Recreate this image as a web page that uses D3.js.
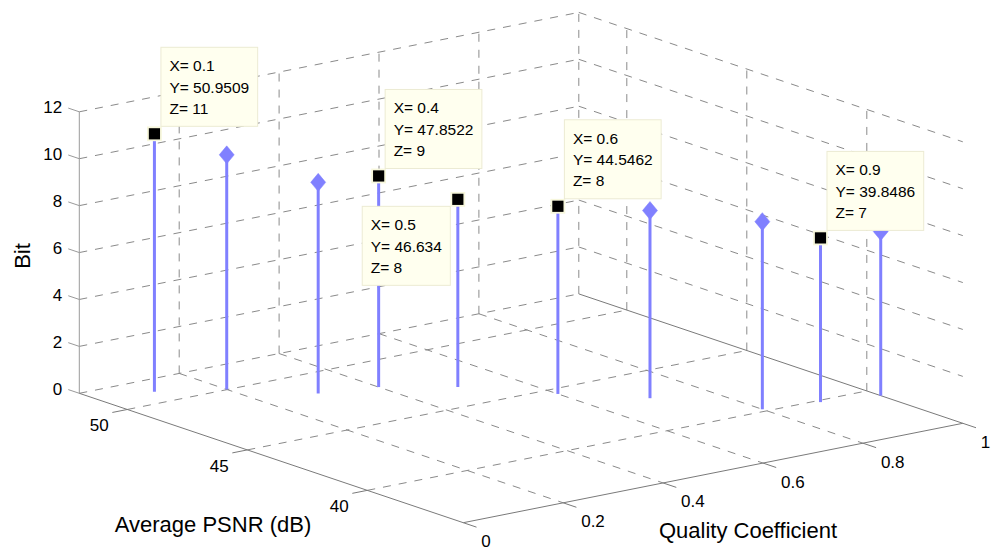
<!DOCTYPE html>
<html>
<head>
<meta charset="utf-8">
<script src="https://cdn.jsdelivr.net/npm/d3@7"></script>
<style>
  html, body { margin: 0; padding: 0; background: #ffffff; }
  svg { display: block; font-family: "Liberation Sans", Arial, Helvetica, sans-serif; }
</style>
</head>
<body>
<svg id="chart" width="1000" height="560"></svg>
<script>
// ---------------- data ----------------
const quality = [0.1, 0.2, 0.3, 0.4, 0.5, 0.6, 0.7, 0.8, 0.9, 1.0];
const psnr    = [50.9509, 50.02, 48.29, 47.8522, 46.634, 44.5462, 42.79, 40.19, 39.8486, 39.42];
const bits    = [11, 10, 9, 9, 8, 8, 8, 8, 7, 7];
const tipIndex = [0, 3, 4, 5, 8];          // points carrying a data tip
const xTicks = [0, 0.2, 0.4, 0.6, 0.8, 1];
const yTicks = [40, 45, 50];
const zTicks = [0, 2, 4, 6, 8, 10, 12];
const xDomain = [0, 1];
const yDomain = [36, 52];
const zDomain = [0, 12];

// ---------------- projection (orthographic 3D view) ----------------
const sx = d3.scaleLinear().domain(xDomain).range([0, 1]);
const sy = d3.scaleLinear().domain(yDomain).range([0, 1]);
const sz = d3.scaleLinear().domain(zDomain).range([0, 1]);
const origin = [463.3, 522.7];       // screen position of (xmin, ymin, zmin)
const ex = [499.5, -99.4];           // full x-range vector
const ey = [-384, -129.4];           // full y-range vector
const ez = [0, -281.5];              // full z-range vector
function P(x, y, z) {
  const a = sx(x), b = sy(y), c = sz(z);
  return [origin[0] + a * ex[0] + b * ey[0] + c * ez[0],
          origin[1] + a * ex[1] + b * ey[1] + c * ez[1]];
}

const svg = d3.select("#chart");
const gGrid = svg.append("g");
const gAxes = svg.append("g");
const gData = svg.append("g");
const gTips = svg.append("g");

const [x0, x1] = xDomain, [y0, y1] = yDomain, [z0, z1] = zDomain;
const gridColor = "#8a8a8a";
const axisColor = "#7a7a7a";

function seg(g, a, b, dashed, color) {
  g.append("line")
    .attr("x1", a[0]).attr("y1", a[1]).attr("x2", b[0]).attr("y2", b[1])
    .attr("stroke", color).attr("stroke-width", 1)
    .attr("stroke-dasharray", dashed ? "8,8" : null);
}

// ---- grid: back-left wall (y = ymax)
xTicks.filter(v => v > x0).forEach(v => seg(gGrid, P(v, y1, z0), P(v, y1, z1), true, gridColor));
zTicks.forEach(v => seg(gGrid, P(x0, y1, v), P(x1, y1, v), true, gridColor));
// ---- grid: back-right wall (x = xmax)
yTicks.forEach(v => seg(gGrid, P(x1, v, z0), P(x1, v, z1), true, gridColor));
zTicks.filter(v => v > z0).forEach(v => seg(gGrid, P(x1, y1, v), P(x1, y0, v), true, gridColor));
// ---- grid: floor
yTicks.forEach(v => seg(gGrid, P(x0, v, z0), P(x1, v, z0), true, gridColor));
xTicks.filter(v => v > x0 && v < x1).forEach(v => seg(gGrid, P(v, y1, z0), P(v, y0, z0), true, gridColor));

// ---- axes lines
seg(gAxes, P(x0, y1, z0), P(x0, y1, z1), false, "#9a9a9a");   // z axis
seg(gAxes, P(x0, y1, z0), P(x0, y0, z0), false, axisColor);   // y axis
seg(gAxes, P(x0, y0, z0), P(x1, y0, z0), false, axisColor);   // x axis
seg(gAxes, P(x1, y1, z0), P(x1, y0, z0), false, axisColor);   // floor edge at x max

const tickFont = 17;
// z ticks
zTicks.forEach(v => {
  const a = P(x0, y1, v), b = P(x0, y1 + 0.46, v);
  seg(gAxes, a, b, false, "#9a9a9a");
  gAxes.append("text").attr("x", b[0] - 6).attr("y", b[1] - 1).attr("dy", "0.35em")
    .attr("text-anchor", "end").attr("font-size", tickFont).text(v);
});
// y ticks
yTicks.forEach(v => {
  const a = P(x0, v, z0), b = P(x0 - 0.03, v, z0);
  seg(gAxes, a, b, false, axisColor);
  gAxes.append("text").attr("x", a[0] - 28).attr("y", a[1] + 16).attr("dy", "0.35em")
    .attr("text-anchor", "middle").attr("font-size", tickFont).text(v);
});
// x ticks
xTicks.forEach(v => {
  const a = P(v, y0, z0), b = P(v, y0 - 0.55, z0);
  seg(gAxes, a, b, false, axisColor);
  gAxes.append("text").attr("x", a[0] + 18).attr("y", a[1] + 18.5).attr("dy", "0.35em")
    .attr("text-anchor", "start").attr("font-size", tickFont).text(v);
});

// axis labels
const labelFont = 22;
gAxes.append("text").attr("transform", "translate(30,256) rotate(-90)")
  .attr("text-anchor", "middle").attr("font-size", labelFont).text("Bit");
gAxes.append("text").attr("x", 213).attr("y", 532)
  .attr("text-anchor", "middle").attr("font-size", labelFont).text("Average PSNR (dB)");
gAxes.append("text").attr("x", 748).attr("y", 538)
  .attr("text-anchor", "middle").attr("font-size", labelFont).text("Quality Coefficient");

// ---------------- stems ----------------
const stemColor = "#8080ff";
const pts = quality.map((q, i) => ({ i, q, y: psnr[i], z: bits[i],
  base: P(q, psnr[i], z0), top: P(q, psnr[i], bits[i]) }));

gData.selectAll("line.stem").data(pts).join("line").attr("class", "stem")
  .attr("x1", d => d.base[0]).attr("y1", d => d.base[1])
  .attr("x2", d => d.top[0]).attr("y2", d => d.top[1])
  .attr("stroke", stemColor).attr("stroke-width", 3);

gData.selectAll("path.dia").data(pts.filter(d => !tipIndex.includes(d.i))).join("path")
  .attr("class", "dia")
  .attr("d", d => `M${d.top[0]},${d.top[1] - 9} L${d.top[0] + 7.5},${d.top[1]} L${d.top[0]},${d.top[1] + 9} L${d.top[0] - 7.5},${d.top[1]} Z`)
  .attr("fill", stemColor).attr("stroke", stemColor).attr("stroke-width", 0.5);

// ---------------- data tips ----------------
const tipPts = pts.filter(d => tipIndex.includes(d.i));
tipPts.forEach(d => {
  gTips.append("rect")
    .attr("x", d.top[0] - 6.5).attr("y", d.top[1] - 6.5)
    .attr("width", 13).attr("height", 13)
    .attr("fill", "#000").attr("stroke", "#f7f7dc").attr("stroke-width", 1.8);
});
const tipFont = 15.5;
tipPts.forEach(d => {
  const lines = [`X= ${d.q}`, `Y= ${d.y}`, `Z= ${d.z}`];
  const g = gTips.append("g");
  const rect = g.append("rect");
  const texts = lines.map((s, k) => g.append("text").attr("font-size", tipFont).text(s));
  const w = d3.max(texts, t => t.node().getComputedTextLength()) + 17;
  const h = 79;
  const lowerLeft = d.q === 0.5;
  const bx = lowerLeft ? d.top[0] - 7.5 - w : d.top[0] + 6.5;
  const by = lowerLeft ? d.top[1] + 7 : d.top[1] - 7.5 - h;
  rect.attr("x", bx).attr("y", by).attr("width", w).attr("height", h)
    .attr("fill", "#ffffef").attr("stroke", "#ecebd3").attr("stroke-width", 1);
  texts.forEach((t, k) => t.attr("x", bx + 8.5).attr("y", by + 24 + k * 21.2));
});
</script>
</body>
</html>
